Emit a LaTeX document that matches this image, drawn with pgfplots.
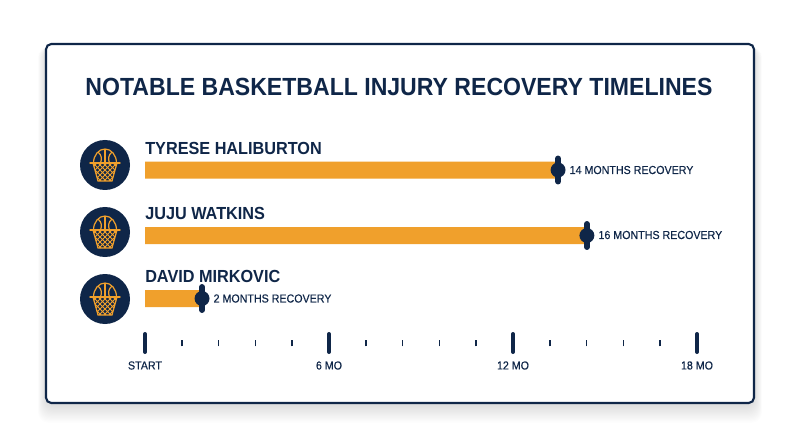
\documentclass[border=0pt]{standalone}
\usepackage{pgfplots}
\pgfplotsset{compat=1.18}
\usepackage{fontspec}
\setmainfont{Liberation Sans}
\newfontfamily\narrowb[FakeStretch=0.93,BoldFont={Liberation Sans Bold}]{Liberation Sans Bold}
\newfontfamily\narrowr[FakeStretch=0.92,FakeBold=0.25]{Liberation Sans}
\definecolor{navy}{HTML}{0F2648}
\definecolor{amber}{HTML}{F0A02C}
\pgfdeclareplotmark{endcap}{%
  \pgfsetlinewidth{4.5pt}\pgfsetroundcap
  \pgfpathmoveto{\pgfpoint{0pt}{-8.6pt}}\pgfpathlineto{\pgfpoint{0pt}{8.6pt}}\pgfusepathqstroke
  \pgfpathcircle{\pgfpointorigin}{5.6pt}\pgfusepathqfill}
\pgfplotstableread{
val row
13.47 277
14.41 211.5
1.86 148.5
}\recovery
\newcommand{\hoop}[1]{%
\begin{scope}[shift={(105,#1)}]
 \fill[navy] (0,0) circle (25);
 \begin{scope}[draw=amber,line width=0.9pt]
  \draw (-11.5,2) arc (180:0:11.5 and 14);
  \draw (0,16) -- (0,2);
  \draw (-7,13) .. controls (-3,9.5) and (-3,6) .. (-4.5,2);
  \draw (7,13) .. controls (3,9.5) and (3,6) .. (4.5,2);
  \draw[line width=1.1pt,line cap=round] (-15,2) -- (15,2);
  \draw (-12,2) -- (-7,-16) -- (7,-16) -- (12,2);
  \clip (-12,2) -- (-7,-16) -- (7,-16) -- (12,2) -- cycle;
  \draw[line width=0.65pt] \foreach \d in {-30,-25,...,30} { (\d-12,2) -- (\d+6,-16) (\d+12,2) -- (\d-6,-16) };
 \end{scope}
\end{scope}}
\begin{document}
\begin{tikzpicture}[x=.75pt,y=.75pt]
\useasboundingbox (0,0) rectangle (800,447);
\fill[white] (0,0) rectangle (800,447);
\foreach \s in {1,2,...,18}{
  \fill[black,opacity=0.009,rounded corners=8pt] (46-\s*0.45,44-\s*1.1) rectangle (754+\s*0.45,400);
}
\draw[navy,fill=white,line width=1.6pt,rounded corners=4pt] (46,44) rectangle (754,403);
\node[navy,font=\narrowb\fontsize{18.6pt}{22pt}\selectfont] at (399,360) {NOTABLE BASKETBALL INJURY RECOVERY TIMELINES};
\hoop{282}\hoop{215}\hoop{148}
\begin{axis}[
  at={(108.75pt,78pt)},anchor=south west,scale only axis,
  width=414pt,height=159.75pt,
  xmin=0,xmax=18,ymin=104,ymax=317,
  clip=false,
  hide y axis,
  axis x line=bottom,
  axis line style={draw=none},
  tick align=center,
  xtick={0,6,12,18},
  xticklabels={START,6 MO,12 MO,18 MO},
  minor xtick={1.2,2.4,3.6,4.8,7.2,8.4,9.6,10.8,13.2,14.4,15.6,16.8},
  major tick length=13.5pt,
  minor tick length=5pt,
  major tick style={navy,line width=3pt,line cap=round},
  minor tick style={navy,line width=1.1pt},
  xticklabel style={navy,font=\narrowr\fontsize{8.7pt}{10pt}\selectfont,yshift=-3.5pt},
]
\addplot[xbar,fill=amber,draw=none,bar width=12.75pt,bar shift=0pt] table[x=val,y=row] {\recovery};
\addplot[only marks,navy,mark=endcap,mark options={draw=navy,fill=navy}] table[x=val,y=row] {\recovery};
\node[anchor=west,navy,inner sep=0pt,font=\narrowb\fontsize{13.1pt}{15pt}\selectfont] at (axis cs:0,299) {TYRESE HALIBURTON};
\node[anchor=west,navy,inner sep=0pt,font=\narrowb\fontsize{13.1pt}{15pt}\selectfont] at (axis cs:0,234) {JUJU WATKINS};
\node[anchor=west,navy,inner sep=0pt,font=\narrowb\fontsize{13.1pt}{15pt}\selectfont] at (axis cs:0,171) {DAVID MIRKOVIC};
\node[anchor=west,navy,inner sep=0pt,font=\narrowr\fontsize{8.7pt}{10pt}\selectfont] at (axis cs:13.47,277) {\hspace{8.5pt}14 MONTHS RECOVERY};
\node[anchor=west,navy,inner sep=0pt,font=\narrowr\fontsize{8.7pt}{10pt}\selectfont] at (axis cs:14.41,212) {\hspace{8.5pt}16 MONTHS RECOVERY};
\node[anchor=west,navy,inner sep=0pt,font=\narrowr\fontsize{8.7pt}{10pt}\selectfont] at (axis cs:1.86,148.5) {\hspace{8.5pt}2 MONTHS RECOVERY};
\end{axis}
\end{tikzpicture}
\end{document}
